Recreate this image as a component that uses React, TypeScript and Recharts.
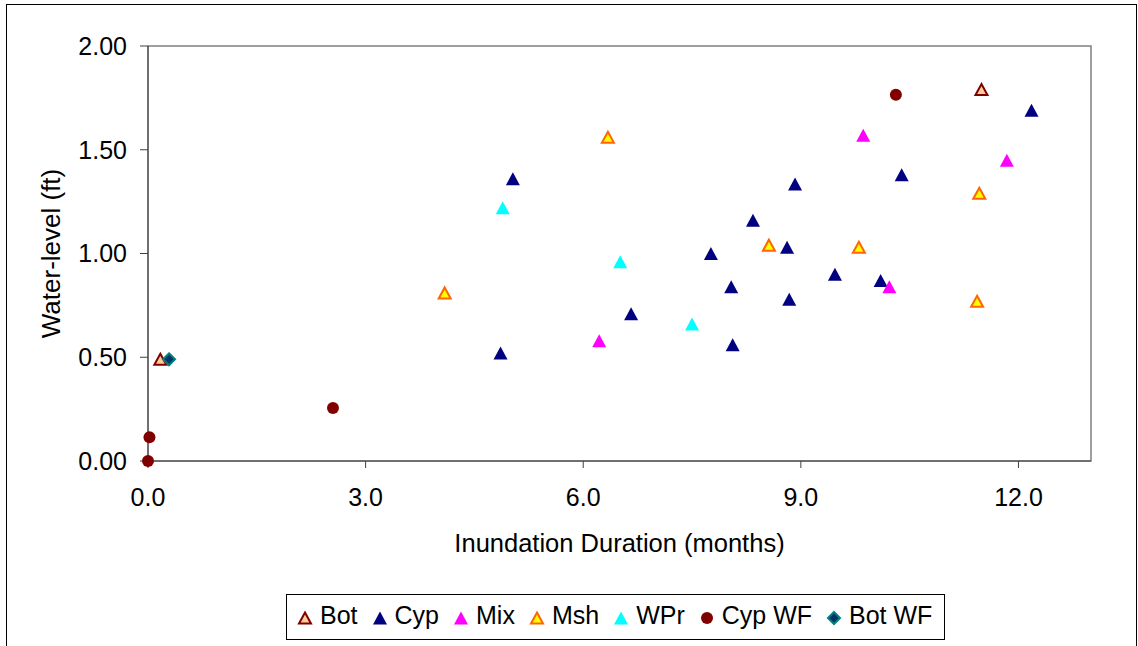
import { ScatterChart, Scatter, XAxis, YAxis, ReferenceArea, Label } from 'recharts';

// [inundation months, water level ft]
const bot = [[0.17, 0.49], [11.49, 1.79]];
const cyp = [
  [4.86, 0.52], [5.03, 1.36], [6.66, 0.71], [7.76, 1.0], [8.04, 0.84], [8.06, 0.56],
  [8.34, 1.16], [8.81, 1.03], [8.84, 0.78], [8.92, 1.335], [9.47, 0.9], [10.1, 0.87],
  [10.39, 1.38], [12.18, 1.69],
];
const mix = [[6.22, 0.58], [9.86, 1.57], [10.22, 0.84], [11.84, 1.45]];
const msh = [[4.09, 0.81], [6.34, 1.56], [8.56, 1.04], [9.8, 1.03], [11.46, 1.29], [11.43, 0.77]];
const wpr = [[4.89, 1.22], [6.51, 0.96], [7.5, 0.66]];
const cypWf = [[0.0, 0.0], [0.02, 0.114], [2.55, 0.255], [10.31, 1.765]];
const botWf = [[0.29, 0.49]];

const xTicks = [0, 3, 6, 9, 12];
const yTicks = [0, 0.5, 1, 1.5, 2];

const FONT = '"Liberation Sans", Arial, sans-serif';

type Kind = 'tri' | 'circle' | 'diamond';

const seriesDefs = [
  { name: 'Bot', data: bot, kind: 'tri' as Kind, fill: '#FFCC99', stroke: '#800000' },
  { name: 'Cyp', data: cyp, kind: 'tri' as Kind, fill: '#000080', stroke: 'none' },
  { name: 'Mix', data: mix, kind: 'tri' as Kind, fill: '#FF00FF', stroke: 'none' },
  { name: 'Msh', data: msh, kind: 'tri' as Kind, fill: '#FFFF00', stroke: '#FF6600' },
  { name: 'WPr', data: wpr, kind: 'tri' as Kind, fill: '#00FFFF', stroke: 'none' },
  { name: 'Cyp WF', data: cypWf, kind: 'circle' as Kind, fill: '#800000', stroke: 'none' },
  { name: 'Bot WF', data: botWf, kind: 'diamond' as Kind, fill: '#003366', stroke: '#008080' },
];

const Marker = ({ cx, cy, kind, fill, stroke }: { cx: number; cy: number; kind: Kind; fill: string; stroke: string }) => {
  const sw = stroke === 'none' ? 0 : 2;
  if (kind === 'circle') return <circle cx={cx} cy={cy} r={6} fill={fill} />;
  if (kind === 'diamond') {
    const r = 6;
    return (
      <polygon
        points={`${cx},${cy - r} ${cx + r},${cy} ${cx},${cy + r} ${cx - r},${cy}`}
        fill={fill}
        stroke={stroke}
        strokeWidth={sw}
      />
    );
  }
  const h = sw ? 5.5 : 6.5;
  const w = sw ? 6 : 7;
  return (
    <polygon
      points={`${cx},${cy - h} ${cx + w},${cy + h} ${cx - w},${cy + h}`}
      fill={fill}
      stroke={stroke}
      strokeWidth={sw}
      strokeLinejoin="miter"
    />
  );
};

const LegendBox = () => (
  <div
    style={{
      position: 'absolute',
      left: 286,
      top: 594,
      width: 659,
      height: 46,
      boxSizing: 'border-box',
      border: '1px solid #000',
      display: 'flex',
      alignItems: 'center',
      paddingLeft: 10,
      paddingBottom: 3,
      gap: 14,
      fontFamily: FONT,
      fontSize: 25,
      color: '#000',
    }}
  >
    {seriesDefs.map((s) => (
      <div key={s.name} style={{ display: 'flex', alignItems: 'center' }}>
        <svg width={16} height={16} style={{ marginRight: 7, marginTop: 4 }}>
          <Marker cx={8} cy={8} kind={s.kind} fill={s.fill} stroke={s.stroke} />
        </svg>
        <span>{s.name}</span>
      </div>
    ))}
  </div>
);

export default function App() {
  return (
    <div style={{ position: 'absolute', left: 0, top: 0, width: 1138, height: 646, overflow: 'hidden', background: '#fff' }}>
      <div
        style={{
          position: 'absolute',
          left: 6,
          top: 4,
          width: 1131,
          height: 700,
          boxSizing: 'border-box',
          border: '1px solid #000',
        }}
      />
      <div style={{ position: 'absolute', left: 0, top: 0 }}>
        <ScatterChart width={1138} height={646} margin={{ top: 46, right: 47, bottom: 0, left: 0 }}>
          <ReferenceArea x1={0} x2={13} y1={0} y2={2} fill="none" stroke="#808080" strokeWidth={1.5} fillOpacity={0} />
          <XAxis
            type="number"
            dataKey="x"
            domain={[0, 13]}
            ticks={xTicks}
            tickFormatter={(v: number) => v.toFixed(1)}
            height={185}
            stroke="#404040"
            tickSize={7}
            tickMargin={20}
            tick={{ fill: '#000', fontFamily: FONT, fontSize: 25 }}
          >
            <Label
              value="Inundation Duration (months)"
              position="insideTop"
              offset={73}
              style={{ fill: '#000', fontFamily: FONT, fontSize: 25.5 }}
            />
          </XAxis>
          <YAxis
            type="number"
            dataKey="y"
            domain={[0, 2]}
            ticks={yTicks}
            tickFormatter={(v: number) => v.toFixed(2)}
            width={148}
            stroke="#404040"
            tickSize={8}
            tickMargin={13}
            tick={{ fill: '#000', fontFamily: FONT, fontSize: 25 }}
          >
            <Label
              value="Water-level (ft)"
              angle={-90}
              position="insideLeft"
              offset={51}
              style={{ fill: '#000', fontFamily: FONT, fontSize: 26, textAnchor: 'middle' }}
            />
          </YAxis>
          {seriesDefs.map((s) => (
            <Scatter
              key={s.name}
              name={s.name}
              data={s.data.map(([x, y]) => ({ x, y }))}
              isAnimationActive={false}
              shape={(p: any) => <Marker cx={p.cx} cy={p.cy} kind={s.kind} fill={s.fill} stroke={s.stroke} />}
            />
          ))}
        </ScatterChart>
      </div>
      <LegendBox />
    </div>
  );
}
